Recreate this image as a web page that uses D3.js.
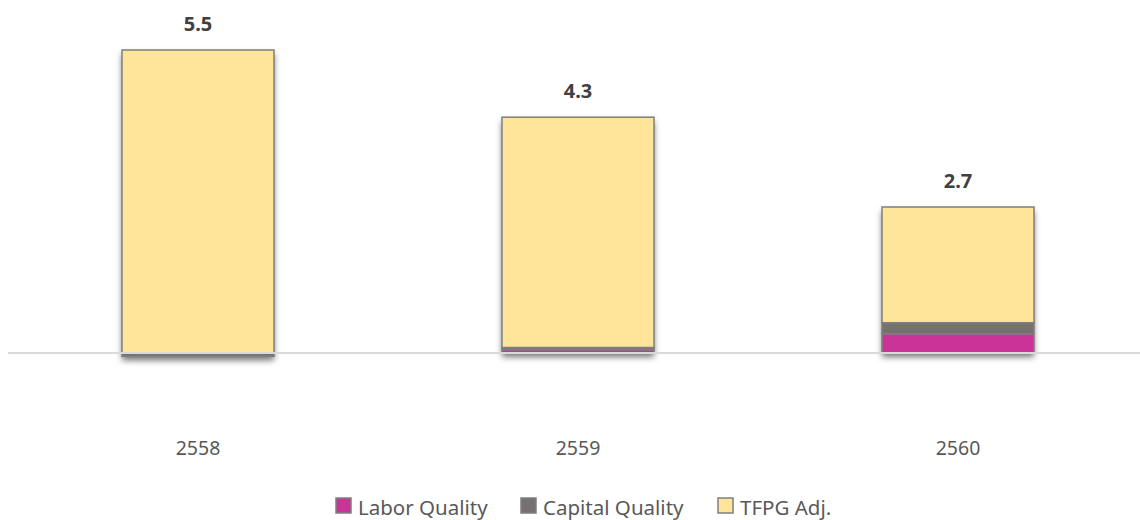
<!DOCTYPE html>
<html>
<head>
<meta charset="utf-8">
<script src="https://cdn.jsdelivr.net/npm/d3@7"></script>
<style>
  body { margin: 0; background: #fff; }
  svg { font-family: "Noto Sans", "Open Sans", sans-serif; }
</style>
</head>
<body>
<svg id="chart"></svg>
<script>
const years = ['2558', '2559', '2560']
const laborQuality = [0, 0.06, 0.35]
const capitalQuality = [-0.06, 0.04, 0.2]
const tfpgAdj = [5.5, 4.18, 2.1]
const totals = ['5.5', '4.3', '2.7']
const seriesNames = ['Labor Quality', 'Capital Quality', 'TFPG Adj.']
const seriesColors = ['#cc3399', '#767171', '#ffe599']

const width = 1140
const height = 520

const svg = d3.select('#chart')
    .attr('width', width)
    .attr('height', height)

const defs = svg.append('defs')
const shadow = defs.append('filter')
    .attr('id', 'shadow')
    .attr('x', '-10%').attr('y', '-10%')
    .attr('width', '120%').attr('height', '120%')
shadow.append('feDropShadow')
    .attr('dx', 0).attr('dy', 4)
    .attr('stdDeviation', 3)
    .attr('flood-color', '#000')
    .attr('flood-opacity', 0.55)

const xScale = d3.scaleBand()
    .domain(years)
    .range([8, 1148])
    .paddingInner(0.6)
    .paddingOuter(0.3)

const yScale = d3.scaleLinear()
    .domain([0, 5.5])
    .range([353, 50])

// stack: positives up from 0, negatives down from 0
const rows = years.map((y, i) => ({ year: y, vals: [laborQuality[i], capitalQuality[i], tfpgAdj[i]] }))
const segs = []
rows.forEach(r => {
    let pos = 0, neg = 0
    r.vals.forEach((v, k) => {
        if (v >= 0) { segs.push({ year: r.year, k, y0: pos, y1: pos + v }); pos += v }
        else { segs.push({ year: r.year, k, y0: neg + v, y1: neg }); neg += v }
    })
})

const topOf = d => d3.sum(d.vals.filter(v => v > 0))
const bottomOf = d => d3.sum(d.vals.filter(v => v < 0))

// shadow behind each whole bar
const bars = svg.append('g')
bars.selectAll('.bar-bg')
    .data(rows)
    .enter()
    .append('rect')
    .attr('class', 'bar-bg')
    .attr('x', d => xScale(d.year))
    .attr('width', xScale.bandwidth())
    .attr('y', d => yScale(topOf(d)))
    .attr('height', d => yScale(bottomOf(d)) - yScale(topOf(d)))
    .attr('fill', '#7f7f7f')
    .attr('filter', 'url(#shadow)')

bars.selectAll('.seg')
    .data(segs)
    .enter()
    .append('rect')
    .attr('class', 'seg')
    .attr('x', d => xScale(d.year))
    .attr('width', xScale.bandwidth())
    .attr('y', d => yScale(d.y1))
    .attr('height', d => yScale(d.y0) - yScale(d.y1))
    .attr('fill', d => seriesColors[d.k])
    .attr('stroke', '#7f7f7f')
    .attr('stroke-width', 1.5)

// zero line
svg.append('line')
    .attr('x1', 8).attr('x2', 1140)
    .attr('y1', yScale(0)).attr('y2', yScale(0))
    .attr('stroke', '#d9d9d9')
    .attr('stroke-width', 2)

// total labels
svg.append('g').selectAll('text')
    .data(rows)
    .enter()
    .append('text')
    .attr('x', d => xScale(d.year) + xScale.bandwidth() / 2)
    .attr('y', d => yScale(topOf(d)) - 19)
    .attr('text-anchor', 'middle')
    .attr('font-size', 20)
    .attr('font-weight', 'bold')
    .attr('fill', '#404040')
    .text((d, i) => totals[i])

// category labels
const xAxis = d3.axisBottom(xScale).tickSize(0).tickPadding(0)
const gx = svg.append('g')
    .attr('transform', 'translate(0,455)')
    .call(xAxis)
gx.select('.domain').remove()
gx.selectAll('text')
    .attr('font-size', 19.5)
    .attr('fill', '#595959')
    .attr('font-family', '"Noto Sans", sans-serif')
    .attr('dy', 0)

// legend
const legendX = [336, 521, 718]
const legend = svg.append('g')
seriesNames.forEach((name, i) => {
    legend.append('rect')
        .attr('x', legendX[i]).attr('y', 498)
        .attr('width', 15).attr('height', 15)
        .attr('fill', seriesColors[i])
        .attr('stroke', '#7f7f7f')
        .attr('stroke-width', 1.5)
    legend.append('text')
        .attr('x', legendX[i] + 22).attr('y', 515)
        .attr('font-size', 20.5)
        .attr('fill', '#595959')
        .text(name)
})
</script>
</body>
</html>
